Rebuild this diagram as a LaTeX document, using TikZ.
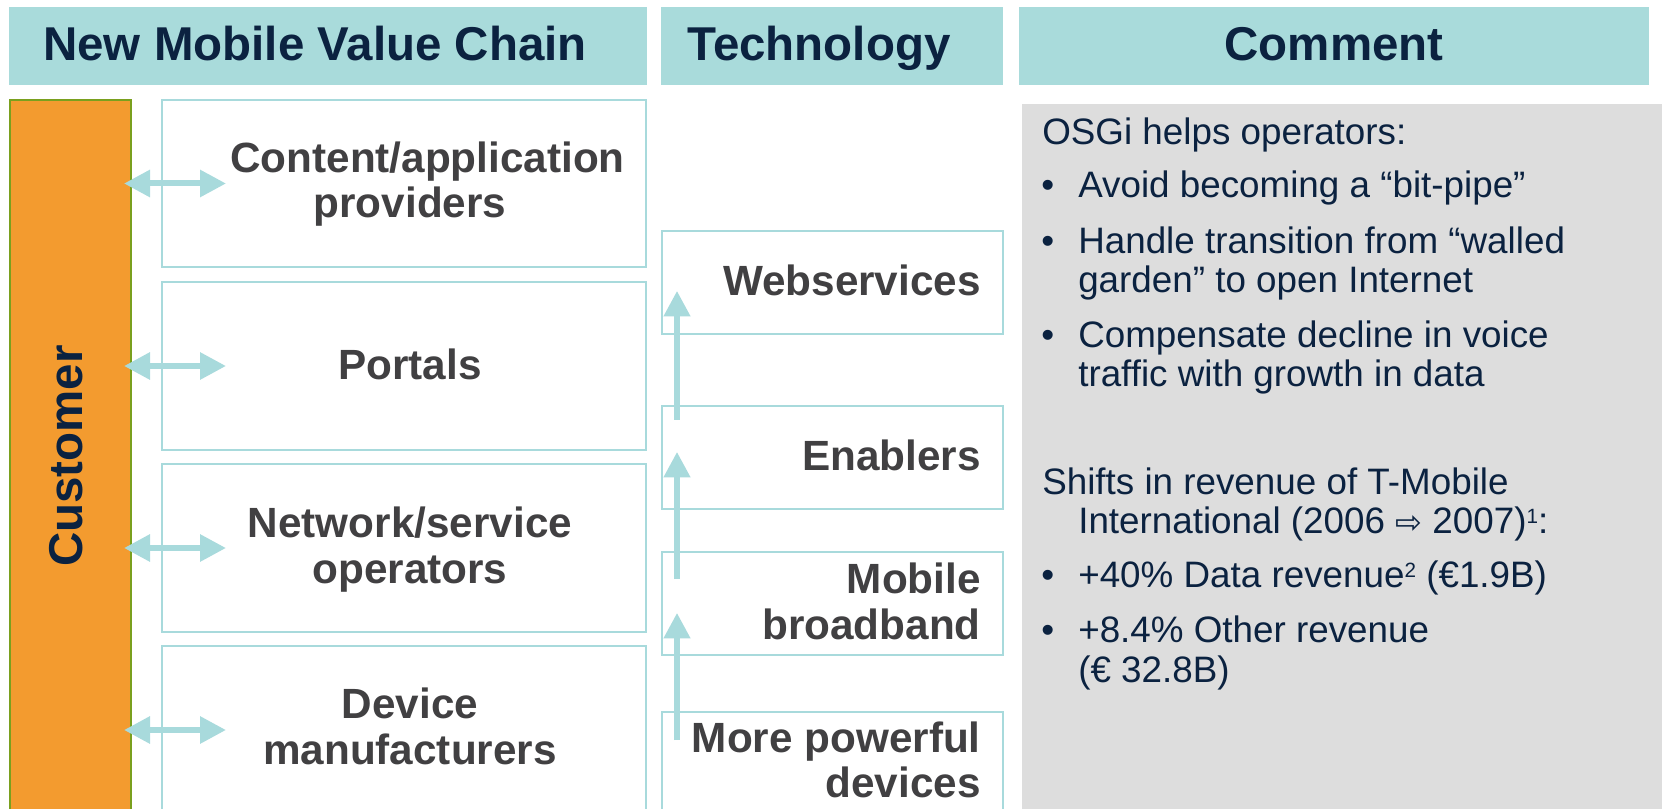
\documentclass[tikz,border=0pt]{standalone}
\usepackage{fontspec}
\setmainfont{Liberation Sans}
\newfontfamily\djv{DejaVu Sans}
\usetikzlibrary{arrows.meta,calc}
\definecolor{hdrteal}{RGB}{169,219,219}
\definecolor{boxteal}{RGB}{168,218,220}
\definecolor{hdrnavy}{RGB}{11,34,64}
\definecolor{dgray}{RGB}{65,64,66}
\definecolor{custorange}{RGB}{243,155,47}
\definecolor{custedge}{RGB}{122,160,30}
\definecolor{cmtgray}{RGB}{221,221,221}
\newcommand\supnum[1]{\raisebox{7.5pt}{\fontsize{15.5}{16}\selectfont #1}}
\tikzset{
  hdr/.style={fill=hdrteal, draw=hdrteal, line width=1pt, inner sep=0pt, minimum height=57.75pt},
  hdrtxt/.style={font=\bfseries\fontsize{35.6}{40}\selectfont, text=hdrnavy, inner sep=0pt, anchor=base},
  vcbox/.style={draw=boxteal, fill=white, line width=1.5pt, inner sep=0pt, minimum width=363pt},
  techbox/.style={draw=boxteal, fill=white, line width=1.5pt, inner sep=0pt, minimum width=255.75pt, minimum height=77.25pt},
  boxtxt/.style={font=\bfseries\fontsize{31.7}{34}\selectfont, text=dgray, inner sep=0pt, anchor=base},
  techtxt/.style={boxtxt, anchor=base east},
  cmt/.style={font=\fontsize{27.6}{30}\selectfont, text=hdrnavy, inner sep=0pt, anchor=base west},
  dblarrow/.style={draw=boxteal, line width=4.5pt, {Triangle[width=19.5pt,length=19.5pt]}-{Triangle[width=19.5pt,length=19.5pt]}},
  uparrow/.style={draw=boxteal, line width=4pt, -{Triangle[width=19.2pt,length=19pt]}}
}
\begin{document}
\begin{tikzpicture}[x=0.75pt,y=-0.75pt]
\useasboundingbox (0,0) rectangle (1662,809);

% headers
\node[hdr, minimum width=477pt] (h1) at (328,46) {};
\node[hdr, minimum width=255.75pt] (h2) at (832,46) {};
\node[hdr, minimum width=471pt] (h3) at (1334,46) {};
\node[hdrtxt] (h1t) at (315,61) {New Mobile Value Chain};
\node[hdrtxt] (h2t) at (819,61) {Technology};
\node[hdrtxt] (h3t) at (1334,61) {Comment};

% customer bar
\node[fill=custorange, draw=custedge, line width=1.5pt, inner sep=0pt,
      minimum width=90.75pt, minimum height=547.5pt] (cust) at (70.5,465) {};
\node[font=\bfseries\fontsize{35.6}{40}\selectfont, text=hdrnavy, inner sep=0pt, rotate=90] (custt) at (66.5,456) {Customer};

% value chain boxes
\node[vcbox, minimum height=125.25pt] (b1) at (404,183.5) {};
\node[vcbox, minimum height=126pt] (b2) at (404,366) {};
\node[vcbox, minimum height=126pt] (b3) at (404,548) {};
\node[vcbox, minimum height=126pt] (b4) at (404,730) {};

\node[boxtxt] (b1t1) at (427.5,173) {Content/application};
\node[boxtxt] (b1t2) at (410,218) {providers};
\node[boxtxt] (b2t) at (410,379) {Portals};
\node[boxtxt] (b3t1) at (410,537) {Network/service};
\node[boxtxt] (b3t2) at (410,583) {operators};
\node[boxtxt] (b4t1) at (410,718) {Device};
\node[boxtxt] (b4t2) at (410,764) {manufacturers};

% double arrows
\foreach \b in {b1,b2,b3,b4}{
  \draw[dblarrow] ($(cust.east |- \b.west)+(-8,0)$) -- ($(\b.west)+(65,0)$);
}

% technology boxes
\node[techbox] (t1) at (832.5,282.5) {};
\node[techbox] (t2) at (832.5,457.5) {};
\node[techbox] (t3) at (832.5,603) {};
\node[techbox] (t4) at (832.5,763.5) {};

\node[techtxt] (t1t) at (981,295) {Webservices};
\node[techtxt] (t2t) at (981,470) {Enablers};
\node[techtxt] (t3t1) at (981,593) {Mobile};
\node[techtxt] (t3t2) at (981,639) {broadband};
\node[techtxt] (t4t1) at (981,752.5) {More powerful};
\node[techtxt] (t4t2) at (981,797) {devices};

\draw[uparrow] ($(t4.north west)+(16,29)$) -- ($(t3.south west)+(16,-42.5)$);
\draw[uparrow] ($(t3.north west)+(16,28.5)$) -- ($(t2.south west)+(16,-58)$);
\draw[uparrow] ($(t2.north west)+(16,14.6)$) -- ($(t1.south west)+(16,-44)$);

% comment panel
\node[fill=cmtgray, inner sep=0pt, minimum width=493.5pt, minimum height=544.5pt] (cbox) at (1351,467) {};

\node[cmt] (c1) at (1042,145) {OSGi helps operators:};
\node[cmt] (c2b) at (1041,198) {•};
\node[cmt] (c2) at (1078,198) {Avoid becoming a “bit-pipe”};
\node[cmt] (c3b) at (1041,253) {•};
\node[cmt] (c3) at (1078,253) {Handle transition from “walled};
\node[cmt] (c3c) at (1078,292) {garden” to open Internet};
\node[cmt] (c4b) at (1041,347) {•};
\node[cmt] (c4) at (1078,347) {Compensate decline in voice};
\node[cmt] (c4c) at (1078,386) {traffic with growth in data};
\node[cmt] (c5) at (1042,494) {Shifts in revenue of T-Mobile};
\node[cmt] (c5c) at (1078,533) {International (2006 {\djv\fontsize{24}{24}\selectfont ⇨} 2007)\supnum{1}:};
\node[cmt] (c6b) at (1041,587) {•};
\node[cmt] (c6) at (1078,587) {+40\% Data revenue\supnum{2} (€1.9B)};
\node[cmt] (c7b) at (1041,642) {•};
\node[cmt] (c7) at (1078,642) {+8.4\% Other revenue};
\node[cmt] (c7c) at (1078,682) {(€ 32.8B)};
\end{tikzpicture}
\end{document}
